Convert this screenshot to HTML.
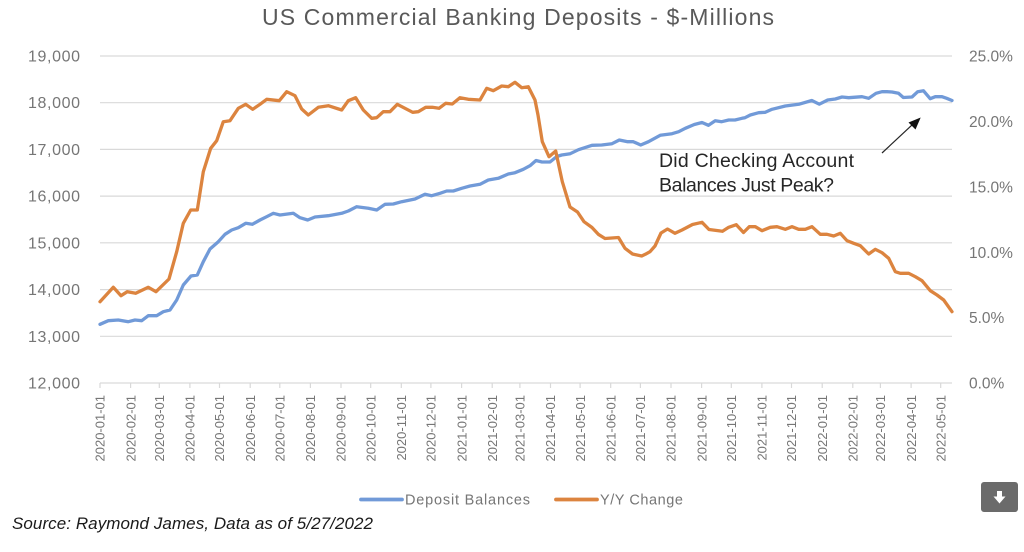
<!DOCTYPE html>
<html>
<head>
<meta charset="utf-8">
<style>
  html, body { margin: 0; padding: 0; background: #ffffff; }
  svg { display: block; }
  text { font-family: "Liberation Sans", Arial, sans-serif; }
</style>
</head>
<body>
<svg width="1024" height="552" viewBox="0 0 1024 552" xmlns="http://www.w3.org/2000/svg">
  <rect width="1024" height="552" fill="#ffffff"/>

  <!-- Title -->
  <text x="262" y="25" font-size="23" fill="#595959" textLength="512" lengthAdjust="spacing">US Commercial Banking Deposits - $-Millions</text>

  <!-- Gridlines -->
  <g stroke="#d9d9d9" stroke-width="1.2">
    <line x1="100" y1="56" x2="952" y2="56"/>
    <line x1="100" y1="102.7" x2="952" y2="102.7"/>
    <line x1="100" y1="149.4" x2="952" y2="149.4"/>
    <line x1="100" y1="196.1" x2="952" y2="196.1"/>
    <line x1="100" y1="242.8" x2="952" y2="242.8"/>
    <line x1="100" y1="289.6" x2="952" y2="289.6"/>
    <line x1="100" y1="336.3" x2="952" y2="336.3"/>
    <line x1="100" y1="383" x2="952" y2="383"/>
  </g>

  <!-- X axis ticks -->
  <g stroke="#d9d9d9" stroke-width="1.2">
    <line x1="100" y1="383" x2="100" y2="388"/>
    <line x1="130.6" y1="383" x2="130.6" y2="388"/>
    <line x1="159.3" y1="383" x2="159.3" y2="388"/>
    <line x1="189.9" y1="383" x2="189.9" y2="388"/>
    <line x1="219.5" y1="383" x2="219.5" y2="388"/>
    <line x1="250.2" y1="383" x2="250.2" y2="388"/>
    <line x1="279.8" y1="383" x2="279.8" y2="388"/>
    <line x1="310.4" y1="383" x2="310.4" y2="388"/>
    <line x1="341.0" y1="383" x2="341.0" y2="388"/>
    <line x1="370.7" y1="383" x2="370.7" y2="388"/>
    <line x1="401.3" y1="383" x2="401.3" y2="388"/>
    <line x1="430.9" y1="383" x2="430.9" y2="388"/>
    <line x1="461.6" y1="383" x2="461.6" y2="388"/>
    <line x1="492.2" y1="383" x2="492.2" y2="388"/>
    <line x1="519.9" y1="383" x2="519.9" y2="388"/>
    <line x1="550.5" y1="383" x2="550.5" y2="388"/>
    <line x1="580.1" y1="383" x2="580.1" y2="388"/>
    <line x1="610.7" y1="383" x2="610.7" y2="388"/>
    <line x1="640.4" y1="383" x2="640.4" y2="388"/>
    <line x1="671.0" y1="383" x2="671.0" y2="388"/>
    <line x1="701.6" y1="383" x2="701.6" y2="388"/>
    <line x1="731.3" y1="383" x2="731.3" y2="388"/>
    <line x1="761.9" y1="383" x2="761.9" y2="388"/>
    <line x1="791.5" y1="383" x2="791.5" y2="388"/>
    <line x1="822.2" y1="383" x2="822.2" y2="388"/>
    <line x1="852.8" y1="383" x2="852.8" y2="388"/>
    <line x1="880.4" y1="383" x2="880.4" y2="388"/>
    <line x1="911.1" y1="383" x2="911.1" y2="388"/>
    <line x1="940.7" y1="383" x2="940.7" y2="388"/>
  </g>

  <!-- Left axis labels -->
  <g font-size="16" fill="#767676">
    <text x="28" y="61.5" textLength="52" lengthAdjust="spacing">19,000</text>
    <text x="28" y="108.2" textLength="52" lengthAdjust="spacing">18,000</text>
    <text x="28" y="154.9" textLength="52" lengthAdjust="spacing">17,000</text>
    <text x="28" y="201.6" textLength="52" lengthAdjust="spacing">16,000</text>
    <text x="28" y="248.3" textLength="52" lengthAdjust="spacing">15,000</text>
    <text x="28" y="295.1" textLength="52" lengthAdjust="spacing">14,000</text>
    <text x="28" y="341.8" textLength="52" lengthAdjust="spacing">13,000</text>
    <text x="28" y="388.5" textLength="52" lengthAdjust="spacing">12,000</text>
  </g>

  <!-- Right axis labels -->
  <g font-size="15.5" fill="#767676">
    <text x="969" y="61.5">25.0%</text>
    <text x="969" y="127">20.0%</text>
    <text x="969" y="192.4">15.0%</text>
    <text x="969" y="257.8">10.0%</text>
    <text x="969" y="323.2">5.0%</text>
    <text x="969" y="388.5">0.0%</text>
  </g>

  <!-- X axis labels (rotated) -->
  <g font-size="13" fill="#767676" text-anchor="end">
    <text transform="translate(104.7,395) rotate(-90)">2020-01-01</text>
    <text transform="translate(135.3,395) rotate(-90)">2020-02-01</text>
    <text transform="translate(164.0,395) rotate(-90)">2020-03-01</text>
    <text transform="translate(194.6,395) rotate(-90)">2020-04-01</text>
    <text transform="translate(224.2,395) rotate(-90)">2020-05-01</text>
    <text transform="translate(254.9,395) rotate(-90)">2020-06-01</text>
    <text transform="translate(284.5,395) rotate(-90)">2020-07-01</text>
    <text transform="translate(315.1,395) rotate(-90)">2020-08-01</text>
    <text transform="translate(345.7,395) rotate(-90)">2020-09-01</text>
    <text transform="translate(375.4,395) rotate(-90)">2020-10-01</text>
    <text transform="translate(406.0,395) rotate(-90)">2020-11-01</text>
    <text transform="translate(435.6,395) rotate(-90)">2020-12-01</text>
    <text transform="translate(466.3,395) rotate(-90)">2021-01-01</text>
    <text transform="translate(496.9,395) rotate(-90)">2021-02-01</text>
    <text transform="translate(524.6,395) rotate(-90)">2021-03-01</text>
    <text transform="translate(555.2,395) rotate(-90)">2021-04-01</text>
    <text transform="translate(584.8,395) rotate(-90)">2021-05-01</text>
    <text transform="translate(615.4,395) rotate(-90)">2021-06-01</text>
    <text transform="translate(645.1,395) rotate(-90)">2021-07-01</text>
    <text transform="translate(675.7,395) rotate(-90)">2021-08-01</text>
    <text transform="translate(706.3,395) rotate(-90)">2021-09-01</text>
    <text transform="translate(736.0,395) rotate(-90)">2021-10-01</text>
    <text transform="translate(766.6,395) rotate(-90)">2021-11-01</text>
    <text transform="translate(796.2,395) rotate(-90)">2021-12-01</text>
    <text transform="translate(826.9,395) rotate(-90)">2022-01-01</text>
    <text transform="translate(857.5,395) rotate(-90)">2022-02-01</text>
    <text transform="translate(885.1,395) rotate(-90)">2022-03-01</text>
    <text transform="translate(915.8,395) rotate(-90)">2022-04-01</text>
    <text transform="translate(945.4,395) rotate(-90)">2022-05-01</text>
  </g>

  <!-- Deposit Balances (blue) -->
  <polyline fill="none" stroke="#719ad8" stroke-width="3.3" stroke-linejoin="round" stroke-linecap="round"
    points="100,324.3 108.3,320.7 118.3,320 128.3,321.7 135,320 141.7,320.7 148.3,315.7 156.7,315.7 163.3,311.7 170,310 176.7,300 183.3,285 191,276 197.3,275 203.3,261.7 210,249 218.3,241.7 225,234.3 231.7,230 238.3,227.7 245.7,223.3 252.3,224.3 260,220 266.7,216.7 273.3,213.3 280,215 293.3,213.3 300,217.7 307.7,220 315,217 328.3,215.7 341.7,213.3 348.3,211 356.7,206.7 368.3,208.3 376.7,210 385,204.3 393.3,204 401.7,201.7 415,199 425,194.3 431.7,195.7 440,193.3 446.7,191 453.3,191 461.7,188.3 470,186 480,184.3 488.3,180 498.3,178.3 508.3,174 515,172.7 523.3,169.3 530,165.7 536,160.5 542,162 550,162 556.8,156.5 561.7,155 570.2,153.7 578.5,149.7 592,145.3 601.7,145 612,143.7 619.3,140 627.7,141.7 633.3,141.7 640.7,145 648.5,141.7 660.2,135.3 672,133.7 678.7,131.7 685.3,128.3 694.3,124.5 702,122.5 708.5,125.3 715.2,120.8 721.7,121.7 728.7,120 735,120 742,118.3 745,117.7 750.3,115 758.7,112.7 765.3,112.3 772,109.3 785.3,106 798.7,104.3 811.8,100.5 819.3,104.2 827.7,100 835.3,99 842,97 848.7,97.7 862,96.7 868.7,98.3 876,93.3 882,91.7 887,91.7 892,92 898.5,93.3 903.3,97.5 912,97 917.7,91.7 923.5,90.8 930.2,98.7 935.3,96.7 942,96.7 946.7,98.3 952,100.5"/>

  <!-- Y/Y Change (orange) -->
  <polyline fill="none" stroke="#dc843f" stroke-width="3.3" stroke-linejoin="round" stroke-linecap="round"
    points="100,301.7 113.3,287.3 121,295.7 127.3,291.7 135.7,293.3 148.3,287.3 156,291.7 169,279 176.7,251.7 183.3,223.3 190.7,210 197.3,210 203.3,171.7 210.7,148.3 216.7,140.7 223.3,121.7 230,120.7 238.3,108.3 245.7,104.3 252.7,109.3 260,104.3 266.7,99.3 279.3,100.7 286.7,91.7 295,95.7 301.7,109 308.3,115 318.3,107.3 328.3,105.7 341.7,110 348.3,100.7 355.7,97.7 363.3,110 371.7,118.3 376.7,117.7 383.3,111.7 390,111.7 397.3,104.3 405,108.3 412.7,112.3 418.3,111.7 425.7,107.3 432.3,107.3 439,108.3 445.7,103.3 452.3,104 460,97.7 468.3,99.3 480,100 486.7,88.3 493.3,90.7 501.7,86 508.3,86.7 515,82.3 521.7,87.7 528.3,86.7 535,100 538,115 542.3,141.7 549,156.7 555.7,151 562.3,181.7 570,207 577.5,212 584,221.7 592,227.5 598.3,234.3 605,238.5 618.5,237.5 625,248.3 632.5,254 641.7,256 645.3,254.3 650,251.7 655,246 661,233 667.5,229 675,233.3 682,230 692.5,224.5 702,222.3 709,229.5 722.5,231.3 728.7,227.3 736.3,224.7 743.5,232.5 749.3,226.7 755.3,226.7 762,230.7 770.3,227.3 777,226.7 785.3,229.3 792,226.7 798.7,229.3 805.3,229.3 812,226.7 820.3,234.3 827,234.3 833.7,236 840.3,233.3 847,240.7 853.7,243.3 860.3,245.7 868.7,254 875.3,249.3 882,252.7 888.7,258.3 895.3,271.7 900.3,273.3 908.7,273.3 915.3,276.7 922,280.7 930.3,290.7 937,295 943.7,300 952,311.7"/>

  <!-- Annotation -->
  <g font-size="19.5" fill="#262626">
    <text x="659" y="167" textLength="195" lengthAdjust="spacing">Did Checking Account</text>
    <text x="659" y="191.5" textLength="175" lengthAdjust="spacing">Balances Just Peak?</text>
  </g>
  <line x1="882" y1="153" x2="912" y2="125" stroke="#262626" stroke-width="1.2"/>
  <polygon points="920.7,117.5 908.5,122.5 915.5,129.5" fill="#111111"/>

  <!-- Legend -->
  <line x1="361" y1="499.5" x2="402" y2="499.5" stroke="#719ad8" stroke-width="3.8" stroke-linecap="round"/>
  <text x="405" y="504.5" font-size="14.5" fill="#767676" textLength="125" lengthAdjust="spacing">Deposit Balances</text>
  <line x1="556" y1="499.5" x2="597" y2="499.5" stroke="#dc843f" stroke-width="3.8" stroke-linecap="round"/>
  <text x="600" y="504.5" font-size="14.5" fill="#767676" textLength="83" lengthAdjust="spacing">Y/Y Change</text>

  <!-- Source -->
  <text x="12" y="529" font-size="17" font-style="italic" fill="#1a1a1a" textLength="361" lengthAdjust="spacing">Source: Raymond James, Data as of 5/27/2022</text>

  <!-- Download button -->
  <rect x="981" y="482" width="37" height="30" rx="3" ry="3" fill="#6b6b6b"/>
  <rect x="997" y="491" width="5" height="6.5" fill="#ffffff"/>
  <polygon points="993.5,496.5 1005.5,496.5 999.5,503.5" fill="#ffffff"/>
</svg>
</body>
</html>
